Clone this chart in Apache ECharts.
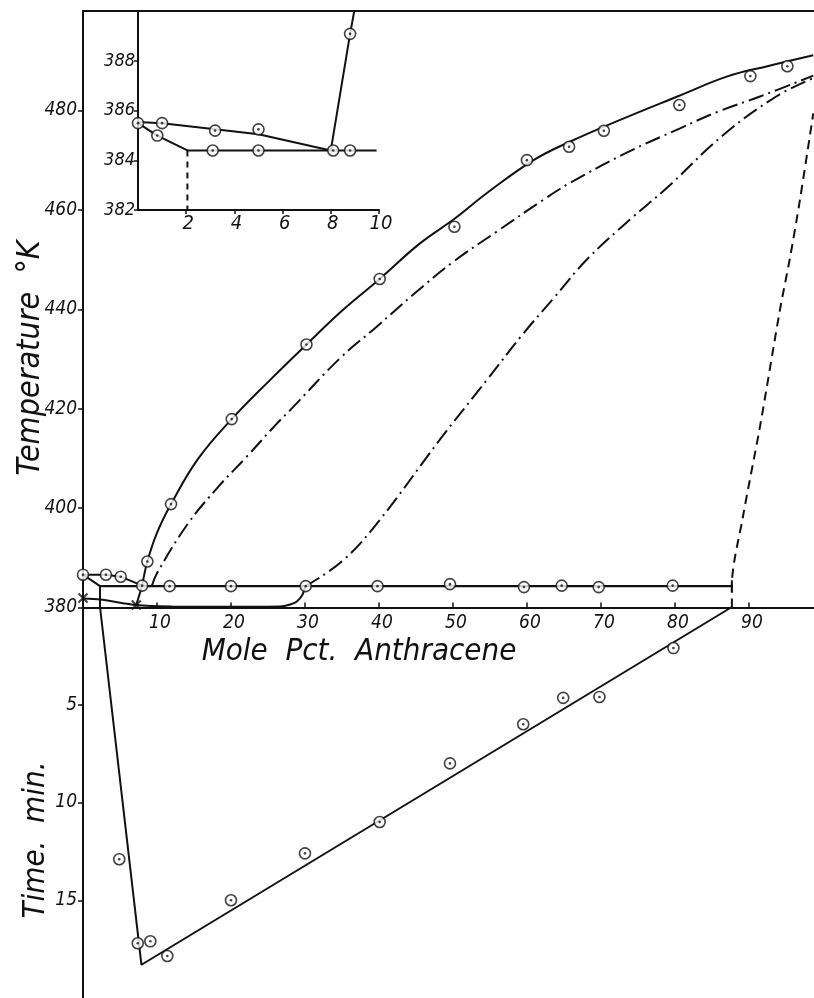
<!DOCTYPE html>
<html>
<head>
<meta charset="utf-8">
<script src="https://cdn.jsdelivr.net/npm/echarts@6/dist/echarts.min.js"></script>
<style>
html,body{margin:0;padding:0;background:#fff;}
#chart{width:814px;height:998px;}
</style>
</head>
<body>
<div id="chart"></div>
<script>
// ---------- Main panel: Temperature (K) vs mole pct anthracene ----------
const liquidusX = [8.0, 8.7, 10.0, 11.9, 15.5, 20.1, 25.3, 30.2, 35.0, 40.1, 45.5, 50.3, 54.6, 60.9, 65.8, 72.6, 80.5, 87.0, 92.5, 98.7];
const liquidusT = [384.4, 389.25, 395.0, 400.8, 409.8, 417.9, 425.8, 432.9, 439.7, 446.1, 453.2, 458.3, 463.4, 470.0, 473.7, 478.1, 482.9, 486.8, 488.9, 491.1];

const upperDashDotX = [9.3, 10.0, 14.2, 18.3, 22.1, 26.2, 28.0, 34.7, 39.7, 44.6, 50.0, 55.9, 62.2, 65.8, 73.5, 80.7, 85.9, 91.5, 98.7];
const upperDashDotT = [384.3, 386.9, 396.9, 404.3, 410.3, 417.0, 419.7, 430.1, 436.5, 442.9, 449.5, 455.6, 462.0, 465.4, 471.5, 476.4, 479.8, 482.8, 487.0];

const lowerDashDotX = [30.1, 35.2, 40.1, 48.2, 54.6, 59.5, 63.6, 68.1, 73.9, 78.9, 86.5, 93.7, 98.7];
const lowerDashDotT = [384.3, 389.55, 397.6, 413.7, 425.8, 435.1, 442.2, 450.0, 458.0, 464.4, 475.0, 482.8, 486.5];

const solidusX = [0, 2.3, 7.2, 12, 20, 26.6, 28.0, 28.9, 29.6, 30.1];
const solidusT = [381.8, 381.6, 380.5, 380.2, 380.15, 380.2, 380.6, 381.2, 382.4, 384.3];

const rightDashX = [87.7, 87.7, 89.2, 91.5, 94.2, 95.5, 96.9, 98.7];
const rightDashT = [380.0, 384.3, 398.3, 416.4, 439.9, 449.9, 462.0, 479.4];

const eutecticX = [2.3, 87.7];
const eutecticT = [384.3, 384.3];

const leftUpperX = [0, 3.1, 5.1, 8.0];
const leftUpperT = [386.6, 386.6, 386.2, 384.4];

const leftDropX = [0, 2.3, 2.3];
const leftDropT = [386.6, 384.3, 380.0];

const connectX = [7.2, 8.0];
const connectT = [380.5, 384.4];

const crossX = [0, 7.2];
const crossT = [381.9, 380.5];

const endTickX = [87.7, 87.7];
const endTickT = [383.0, 385.5];

const pointX = [0, 3.1, 5.1, 8.0, 8.7, 11.9, 20.1, 30.2, 40.1, 50.2, 60.0, 65.7, 70.4, 80.6, 90.2, 95.2,
                11.7, 20.0, 30.1, 39.8, 49.6, 59.6, 64.7, 69.7, 79.7];
const pointT = [386.6, 386.6, 386.2, 384.4, 389.25, 400.8, 417.9, 432.9, 446.1, 456.6, 470.0, 472.7, 475.9, 481.1, 486.9, 488.9,
                384.3, 384.3, 384.3, 384.3, 384.7, 384.1, 384.4, 384.1, 384.4];

// ---------- Lower panel: time (min) ----------
const timeLineX = [2.3, 7.9, 87.7];
const timeLineV = [0, 18.3, 0];
const timePointX = [4.9, 7.4, 9.1, 11.4, 20.0, 30.0, 40.1, 49.6, 59.5, 64.9, 69.8, 79.8];
const timePointV = [12.9, 17.2, 17.1, 17.85, 15.0, 12.6, 11.0, 8.0, 6.0, 4.65, 4.6, 2.1];

// ---------- Inset ----------
const insetUpperX = [0, 1.0, 3.2, 5.0, 8.0];
const insetUpperT = [385.55, 385.5, 385.25, 385.05, 384.4];
const insetLowerX = [0, 0.8, 2.05, 9.9];
const insetLowerT = [385.5, 385.0, 384.4, 384.4];
const insetRiseX = [8.0, 8.8, 8.97];
const insetRiseT = [384.4, 389.1, 390.0];
const insetDashX = [2.05, 2.05];
const insetDashT = [384.4, 382.0];
const insetPointX = [0, 1.0, 3.2, 5.0, 8.1, 8.8, 8.8, 0.8, 3.1, 5.0];
const insetPointT = [385.5, 385.5, 385.2, 385.25, 384.4, 384.4, 389.1, 385.0, 384.4, 384.4];

// ---------- Tick settings ----------
const mainTempTicks = {min: 380, max: 500, interval: 20};
const timeTicks = {min: 0, max: 20, interval: 5};
const compTicks = {min: 0, max: 98.8, interval: 10};
const insetTempTicks = {min: 382, max: 390, interval: 2};
const insetCompTicks = {min: 0, max: 10, interval: 2};

function zip(a, b) { return a.map((v, i) => [v, b[i]]); }

const FONT = "'DejaVu Sans Condensed', 'Liberation Sans Narrow', 'DejaVu Sans', sans-serif";
const BLK = '#111';

function lineSeries(xs, ys, xi, yi, type, width) {
  return {
    type: 'line', data: zip(xs, ys), xAxisIndex: xi, yAxisIndex: yi,
    showSymbol: false, symbol: 'none', smooth: false, silent: true,
    lineStyle: {color: BLK, width: width || 2, type: type || 'solid'},
    z: 3
  };
}
function smoothSeries(xs, ys, xi, yi, type, s) {
  const ser = lineSeries(xs, ys, xi, yi, type, 2);
  ser.smooth = s || 0.4;
  return ser;
}
function ringSeries(xs, ys, xi, yi, size) {
  return [{
    type: 'scatter', data: zip(xs, ys), xAxisIndex: xi, yAxisIndex: yi, silent: true,
    symbol: 'circle', symbolSize: size,
    itemStyle: {color: '#fff', borderColor: BLK, borderWidth: 1.6}, z: 5
  }, {
    type: 'scatter', data: zip(xs, ys), xAxisIndex: xi, yAxisIndex: yi, silent: true,
    symbol: 'circle', symbolSize: 2.6, itemStyle: {color: BLK}, z: 6
  }];
}

const axisLabelStyle = (size) => ({fontFamily: FONT, fontStyle: 'italic', fontSize: size, color: BLK});

const option = {
  backgroundColor: '#fff',
  animation: false,
  grid: [
    {left: 83, width: 731, top: 11, height: 596.5},
    {left: 83, width: 731, top: 607, height: 391},
    {left: 138, width: 241, top: 11.5, height: 198.5}
  ],
  xAxis: [
    {type: 'value', gridIndex: 0, position: 'bottom', ...compTicks,
     axisLine: {show: true, onZero: false, lineStyle: {color: BLK, width: 2}},
     axisTick: {show: true, inside: true, length: 5, lineStyle: {color: BLK, width: 1.5}},
     axisLabel: {...axisLabelStyle(19), margin: 6, showMinLabel: false, showMaxLabel: false, padding: [0, 0, 0, 6]},
     splitLine: {show: false}},
    {type: 'value', gridIndex: 0, position: 'top', ...compTicks,
     axisLine: {show: true, onZero: false, lineStyle: {color: BLK, width: 2}},
     axisTick: {show: false}, axisLabel: {show: false}, splitLine: {show: false}},
    {type: 'value', gridIndex: 1, ...compTicks, show: false, splitLine: {show: false}},
    {type: 'value', gridIndex: 2, position: 'bottom', ...insetCompTicks,
     axisLine: {show: true, onZero: false, lineStyle: {color: BLK, width: 2}},
     axisTick: {show: true, length: 4, lineStyle: {color: BLK, width: 1.5}},
     axisLabel: {...axisLabelStyle(20), margin: 4, showMinLabel: false, padding: [0, 0, 0, 4]},
     splitLine: {show: false}}
  ],
  yAxis: [
    {type: 'value', gridIndex: 0, ...mainTempTicks,
     axisLine: {show: true, onZero: false, lineStyle: {color: BLK, width: 2}},
     axisTick: {show: true, length: 5, lineStyle: {color: BLK, width: 1.5}},
     axisLabel: {...axisLabelStyle(19), margin: 6, showMaxLabel: false},
     splitLine: {show: false}},
    {type: 'value', gridIndex: 1, inverse: true, ...timeTicks,
     axisLine: {show: true, onZero: false, lineStyle: {color: BLK, width: 2}},
     axisTick: {show: true, length: 5, lineStyle: {color: BLK, width: 1.5}},
     axisLabel: {...axisLabelStyle(19), margin: 6, showMinLabel: false, showMaxLabel: false},
     splitLine: {show: false}},
    {type: 'value', gridIndex: 2, ...insetTempTicks,
     axisLine: {show: true, onZero: false, lineStyle: {color: BLK, width: 2}},
     axisTick: {show: true, length: 4, lineStyle: {color: BLK, width: 1.5}},
     axisLabel: {...axisLabelStyle(18), margin: 3, showMaxLabel: false},
     splitLine: {show: false}}
  ],
  series: [
    smoothSeries(liquidusX, liquidusT, 0, 0, 'solid', 0.4),
    smoothSeries(upperDashDotX, upperDashDotT, 0, 0, [16, 5, 2, 5], 0.4),
    smoothSeries(lowerDashDotX, lowerDashDotT, 0, 0, [16, 5, 2, 5], 0.4),
    smoothSeries(solidusX, solidusT, 0, 0, 'solid', 0.25),
    smoothSeries(rightDashX, rightDashT, 0, 0, [9, 6], 0.3),
    lineSeries(eutecticX, eutecticT, 0, 0, 'solid', 2.2),
    lineSeries(leftUpperX, leftUpperT, 0, 0, 'solid', 2),
    lineSeries(leftDropX, leftDropT, 0, 0, 'solid', 2),
    lineSeries(connectX, connectT, 0, 0, 'solid', 2),
    lineSeries(endTickX, endTickT, 0, 0, 'solid', 2),
    {
      type: 'scatter', data: zip(crossX, crossT), xAxisIndex: 0, yAxisIndex: 0, silent: true,
      symbol: 'path://M0,0L10,10M10,0L0,10', symbolSize: 9,
      itemStyle: {color: 'none', borderColor: BLK, borderWidth: 2}, z: 6
    },
    ...ringSeries(pointX, pointT, 0, 0, 11),
    lineSeries(timeLineX, timeLineV, 2, 1, 'solid', 2),
    ...ringSeries(timePointX, timePointV, 2, 1, 11),
    lineSeries(insetUpperX, insetUpperT, 3, 2, 'solid', 2),
    lineSeries(insetLowerX, insetLowerT, 3, 2, 'solid', 2),
    lineSeries(insetRiseX, insetRiseT, 3, 2, 'solid', 2),
    lineSeries(insetDashX, insetDashT, 3, 2, [6, 5], 2),
    ...ringSeries(insetPointX, insetPointT, 3, 2, 11)
  ],
  graphic: [
    {type: 'text', x: 31, y: 358, rotation: Math.PI / 2,
     style: {text: 'Temperature  °K', font: "italic 32px " + FONT, fill: BLK, align: 'center', verticalAlign: 'middle'}},
    {type: 'text', x: 359, y: 652,
     style: {text: 'Mole  Pct.  Anthracene', font: "italic 31px " + FONT, fill: BLK, align: 'center', verticalAlign: 'middle'}},
    {type: 'text', x: 36, y: 840, rotation: Math.PI / 2,
     style: {text: 'Time.  min.', font: "italic 31px " + FONT, fill: BLK, align: 'center', verticalAlign: 'middle'}}
  ]
};

const chart = echarts.init(document.getElementById('chart'), null, {renderer: 'canvas'});
chart.setOption(option);
</script>
</body>
</html>
